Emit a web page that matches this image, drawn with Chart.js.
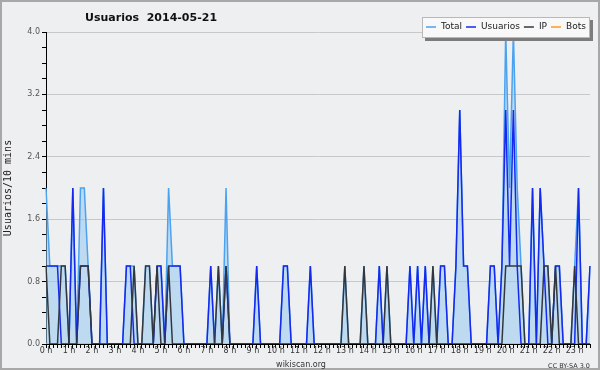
<!DOCTYPE html>
<html lang="es">
<head>
<meta charset="UTF-8">
<title>Usuarios 2014-05-21</title>
<script src="https://cdn.jsdelivr.net/npm/chart.js"></script>
<style>
  html, body { margin: 0; padding: 0; background: #eeeff1; }
  #caja { width: 600px; height: 370px; }
</style>
</head>
<body>
<div id="caja"><canvas id="grafico" width="600" height="370"></canvas></div>
<script>
// textos
const titulo = 'Usuarios  2014-05-21';
const tituloY = 'Usuarios/10 mins';
const fuente = 'wikiscan.org';
const licencia = 'CC BY-SA 3.0';

// etiquetas de las horas (una cada 6 intervalos de 10 min)
const horas = ['0 h','1 h','2 h','3 h','4 h','5 h','6 h','7 h','8 h','9 h','10 h','11 h',
               '12 h','13 h','14 h','15 h','16 h','17 h','18 h','19 h','20 h','21 h','22 h','23 h'];
const minutos = ['00','10','20','30','40','50'];
const numIntervalos = 143; // 0:00 .. 23:40

// categorias: un punto cada 10 minutos
const intervalos = [];
for (let i = 0; i < numIntervalos; i++) {
  intervalos.push(horas[Math.floor(i / 6)].replace(' h', '') + ':' + minutos[i % 6]);
}

// series (una fila por hora)
const total = [
  2,1,1,1,1,1,  0,2,0,2,2,1,  0,0,0,2,0,0,  0,0,0,1,1,1,
  0,0,1,1,0,1,  1,0,2,1,1,1,  0,0,0,0,0,0,  0,1,0,1,0,2,
  0,0,0,0,0,0,  0,1,0,0,0,0,  0,0,1,1,0,0,  0,0,0,1,0,0,
  0,0,0,0,0,0,  1,0,0,0,0,1,  0,0,0,1,0,1,  0,0,0,0,0,1,
  0,1,0,1,0,1,  0,1,1,0,0,1,  3,1,1,0,0,0,  0,0,1,1,0,1,
  4,2,4,2,1,0,  0,2,0,2,1,1,  0,1,1,0,0,0,  1,2,0,0,1
];
const usuarios = [
  1,1,1,1,0,0,  0,2,0,1,1,1,  0,0,0,2,0,0,  0,0,0,1,1,0,
  0,0,0,0,0,1,  1,0,1,1,1,1,  0,0,0,0,0,0,  0,1,0,0,0,1,
  0,0,0,0,0,0,  0,1,0,0,0,0,  0,0,1,1,0,0,  0,0,0,1,0,0,
  0,0,0,0,0,0,  0,0,0,0,0,0,  0,0,0,1,0,0,  0,0,0,0,0,1,
  0,1,0,1,0,0,  0,1,1,0,0,1,  3,1,1,0,0,0,  0,0,1,1,0,1,
  3,1,3,1,0,0,  0,2,0,2,1,0,  0,1,1,0,0,0,  0,2,0,0,1
];
const ip = [
  1,0,0,0,1,1,  0,0,0,1,1,1,  0,0,0,0,0,0,  0,0,0,0,0,1,
  0,0,1,1,0,1,  0,0,1,0,0,0,  0,0,0,0,0,0,  0,0,0,1,0,1,
  0,0,0,0,0,0,  0,0,0,0,0,0,  0,0,0,0,0,0,  0,0,0,0,0,0,
  0,0,0,0,0,0,  1,0,0,0,0,1,  0,0,0,0,0,1,  0,0,0,0,0,0,
  0,0,0,0,0,1,  0,0,0,0,0,0,  0,0,0,0,0,0,  0,0,0,0,0,0,
  1,1,1,1,1,0,  0,0,0,0,1,1,  0,1,0,0,0,0,  1,0,0,0,0
];
const bots = [
  0,0,0,0,0,0,  0,0,0,0,0,0,  0,0,0,0,0,0,  0,0,0,0,0,0,
  0,0,0,0,0,0,  0,0,0,0,0,0,  0,0,0,0,0,0,  0,0,0,0,0,0,
  0,0,0,0,0,0,  0,0,0,0,0,0,  0,0,0,0,0,0,  0,0,0,0,0,0,
  0,0,0,0,0,0,  0,0,0,0,0,0,  0,0,0,0,0,0,  0,0,0,0,0,0,
  0,0,0,0,0,0,  0,0,0,0,0,0,  0,0,0,0,0,0,  0,0,0,0,0,0,
  0,0,0,0,0,0,  0,0,0,0,0,0,  0,0,0,0,0,0,  0,0,0,0,0
];

const fondo = '#eeeff1';

// fondo y borde de la imagen
const marco = {
  id: 'marco',
  beforeDraw(chart) {
    const c = chart.ctx;
    c.save();
    c.fillStyle = fondo;
    c.fillRect(0, 0, chart.width, chart.height);
    c.strokeStyle = '#a8a8a8';
    c.lineWidth = 2;
    c.strokeRect(1, 1, chart.width - 2, chart.height - 2);
    c.restore();
  }
};

// titulo, leyenda y creditos
const textos = {
  id: 'textos',
  afterDraw(chart) {
    const c = chart.ctx;
    c.save();
    c.fillStyle = '#111';
    c.font = 'bold 11px "DejaVu Sans"';
    c.textBaseline = 'alphabetic';
    c.fillText(titulo, 85, 21);

    // leyenda con sombra
    const lx = 422, ly = 17, lw = 168, lh = 21;
    c.fillStyle = '#7c7c7c';
    c.fillRect(lx + 3, ly + 3, lw, lh);
    c.fillStyle = '#f8f8f8';
    c.fillRect(lx, ly, lw, lh);
    c.strokeStyle = '#b8b8b8';
    c.lineWidth = 1;
    c.strokeRect(lx + 0.5, ly + 0.5, lw - 1, lh - 1);
    c.font = '9px "DejaVu Sans"';
    c.textBaseline = 'middle';
    let x = 426;
    const ym = 27;
    chart.data.datasets.forEach(ds => {
      c.strokeStyle = ds.borderColor;
      c.lineWidth = 1.5;
      c.beginPath();
      c.moveTo(x, ym);
      c.lineTo(x + 10, ym);
      c.stroke();
      x += 15;
      c.fillStyle = '#222';
      c.fillText(ds.label, x, ym);
      x += c.measureText(ds.label).width + 4;
    });

    c.fillStyle = '#333';
    c.textBaseline = 'alphabetic';
    c.textAlign = 'center';
    c.font = '8px "DejaVu Sans"';
    c.fillText(fuente, 301, 367);
    c.textAlign = 'right';
    c.font = '6.5px "DejaVu Sans"';
    c.fillText(licencia, 590, 368);
    c.restore();
  }
};

const ctx = document.getElementById('grafico');

new Chart(ctx, {
  type: 'line',
  data: {
    labels: intervalos,
    datasets: [
      { label: 'Total', data: total, borderColor: '#4ba2f0', backgroundColor: 'rgba(150,200,240,0.55)',
        fill: 'origin', borderWidth: 1.5, order: 4 },
      { label: 'Usuarios', data: usuarios, borderColor: '#1428f0', fill: false, borderWidth: 1.5, order: 3 },
      { label: 'IP', data: ip, borderColor: '#33373d', fill: false, borderWidth: 1.5, order: 2 },
      { label: 'Bots', data: bots, borderColor: '#ff9a1a', fill: false, borderWidth: 1.5, order: 5 }
    ]
  },
  options: {
    responsive: false,
    animation: false,
    devicePixelRatio: 1,
    layout: { padding: { top: 32, right: 10, left: 0, bottom: 0 } },
    elements: { point: { radius: 0 }, line: { tension: 0 } },
    plugins: { legend: { display: false }, tooltip: { enabled: false } },
    scales: {
      x: {
        afterFit: s => { s.height = 26; },
        grid: { drawOnChartArea: false, drawTicks: true, tickLength: 4, tickColor: '#000' },
        border: { color: '#000', width: 1 },
        ticks: {
          autoSkip: false, maxRotation: 0, minRotation: 0, padding: -2,
          color: '#333', font: { family: 'DejaVu Sans', size: 8 },
          callback: (v, i) => (i % 6 === 0 ? horas[i / 6] : '')
        }
      },
      y: {
        min: 0, max: 4,
        afterFit: s => { s.width = 46; },
        grid: {
          color: c => (Math.round(c.tick.value * 5) % 4 === 0 ? '#c8c8c8' : 'rgba(0,0,0,0)'),
          tickColor: '#000', tickLength: 4
        },
        border: { color: '#000', width: 1 },
        ticks: {
          stepSize: 0.2, autoSkip: false, padding: 2,
          color: '#555', font: { family: 'DejaVu Sans', size: 8 },
          callback: v => (Math.round(v * 5) % 4 === 0 ? v.toFixed(1) : '')
        },
        title: {
          display: true, text: tituloY, color: '#222',
          font: { family: 'DejaVu Sans Mono', size: 10 },
          padding: { top: 2, bottom: 0 }
        }
      }
    }
  },
  plugins: [marco, textos]
});
</script>
</body>
</html>
